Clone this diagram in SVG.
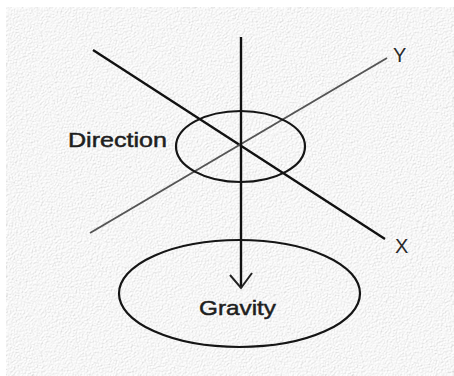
<svg xmlns="http://www.w3.org/2000/svg" width="454" height="376" viewBox="0 0 454 376">
<style>
.lbl{font-family:"Liberation Sans",Arial,sans-serif;fill:#1e1e1e;stroke:#1e1e1e;stroke-width:0.5;}
.axis{font-family:"Liberation Sans",Arial,sans-serif;fill:#2a2a2a;font-size:20px;}
.ell{fill:none;stroke:#151515;stroke-width:2.2;}
.blk{stroke:#111;stroke-width:2.4;fill:none;}
.gry{stroke:#555;stroke-width:2;fill:none;}
</style>
<defs>
<filter id="paper" x="0" y="0" width="100%" height="100%">
<feTurbulence type="fractalNoise" baseFrequency="0.8" numOctaves="2" seed="3" result="n"/>
<feDiffuseLighting in="n" surfaceScale="2.2" lighting-color="#ffffff" result="l">
<feDistantLight azimuth="45" elevation="55"/>
</feDiffuseLighting>
<feColorMatrix in="l" type="matrix" values="0.4 0 0 0 0.6  0.4 0 0 0 0.6  0.4 0 0 0 0.6  0 0 0 0 1"/>
</filter>
</defs>
<rect width="454" height="376" fill="#ffffff"/>
<rect x="6" y="7" width="448" height="369" fill="#e6e6e6" filter="url(#paper)"/>
<g id="connectors">
<line id="axis-x" class="blk" x1="93" y1="50" x2="385" y2="239"/>
<line id="axis-y" class="gry" x1="90" y1="233" x2="387" y2="58"/>
<line id="gravity-arrow" class="blk" x1="241" y1="37" x2="241" y2="288"/>
<path d="M230,275 L241,288 L252,273" fill="none" stroke="#222" stroke-width="2"/>
</g>
<g id="direction">
<ellipse class="ell" cx="240.5" cy="146.5" rx="64.5" ry="35.5"/>
<text class="lbl" x="68" y="147" font-size="21" textLength="99" lengthAdjust="spacingAndGlyphs">Direction</text>
</g>
<g id="gravity">
<ellipse class="ell" cx="239.5" cy="293.5" rx="120.5" ry="53.5"/>
<text class="lbl" x="199" y="315" font-size="21" textLength="77" lengthAdjust="spacingAndGlyphs">Gravity</text>
</g>
<g id="label-y">
<text class="axis" x="393" y="62">Y</text>
</g>
<g id="label-x">
<text class="axis" x="395" y="253">X</text>
</g>
</svg>
